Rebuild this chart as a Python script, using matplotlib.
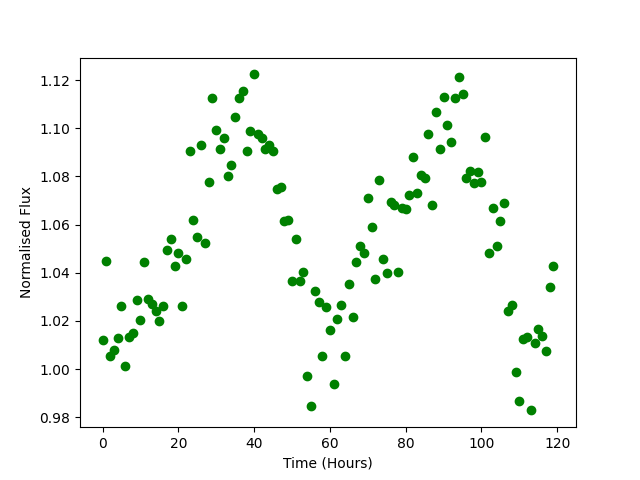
import numpy as np
import matplotlib
matplotlib.use("Agg")
import matplotlib.pyplot as plt

# Tiempo en horas (una medida por hora)
tiempo = np.arange(120)

# Flujo normalizado
flujo = [1.0119, 1.0447, 1.0052, 1.0078, 1.0128, 1.0260, 1.0012, 1.0131, 1.0148, 1.0286,
         1.0203, 1.0443, 1.0290, 1.0268, 1.0242, 1.0198, 1.0260, 1.0493, 1.0542, 1.0430,
         1.0484, 1.0260, 1.0459, 1.0905, 1.0617, 1.0550, 1.0929, 1.0523, 1.0779, 1.1128,
         1.0995, 1.0912, 1.0958, 1.0800, 1.0846, 1.1045, 1.1124, 1.1157, 1.0905, 1.0988,
         1.1224, 1.0978, 1.0958, 1.0916, 1.0929, 1.0904, 1.0746, 1.0758, 1.0613, 1.0621,
         1.0364, 1.0542, 1.0364, 1.0405, 0.9970, 0.9846, 1.0326, 1.0280, 1.0056, 1.0256,
         1.0164, 0.9937, 1.0206, 1.0264, 1.0056, 1.0355, 1.0214, 1.0443, 1.0509, 1.0480,
         1.0709, 1.0588, 1.0372, 1.0787, 1.0459, 1.0397, 1.0692, 1.0680, 1.0405, 1.0667,
         1.0663, 1.0725, 1.0879, 1.0733, 1.0808, 1.0792, 1.0978, 1.0680, 1.1066, 1.0912,
         1.1132, 1.1012, 1.0945, 1.1128, 1.1215, 1.1141, 1.0792, 1.0821, 1.0771, 1.0817,
         1.0779, 1.0962, 1.0480, 1.0671, 1.0513, 1.0613, 1.0688, 1.0243, 1.0264, 0.9986,
         0.9869, 1.0123, 1.0135, 0.9828, 1.0106, 1.0168, 1.0139, 1.0073, 1.0339, 1.0426]

fig = plt.figure(figsize=(6.4, 4.8), dpi=100)
plt.plot(tiempo, flujo, 'go')
plt.xlabel("Time (Hours)")
plt.ylabel("Normalised Flux")
plt.savefig("out.png")
